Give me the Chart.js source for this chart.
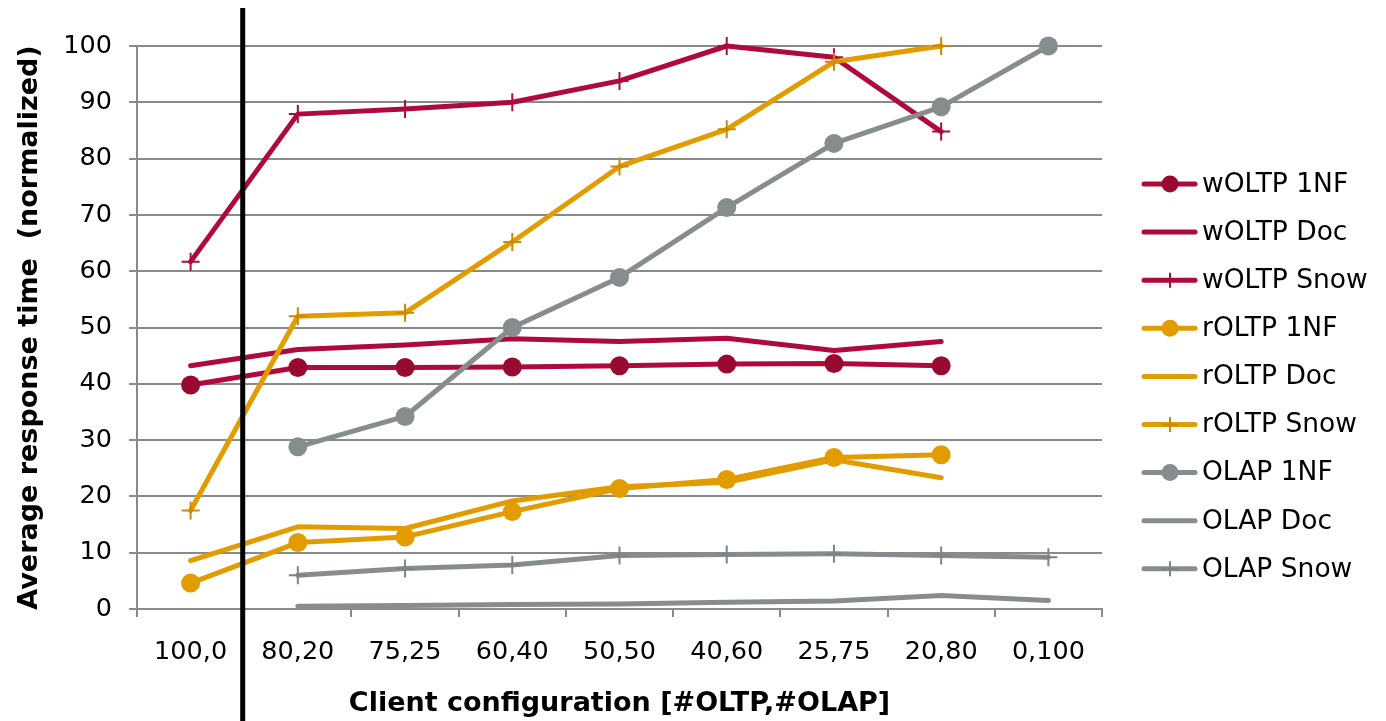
<!DOCTYPE html>
<html>
<head>
<meta charset="utf-8">
<script src="https://cdn.jsdelivr.net/npm/chart.js@4.4.1/dist/chart.umd.min.js"></script>
<style>
  html, body { margin: 0; padding: 0; background: #ffffff; }
  #wrap { width: 1386px; height: 721px; }
</style>
</head>
<body>
<div id="wrap"><canvas id="c" width="1386" height="721"></canvas></div>
<script>
// ---- data ----
const categories = ['100,0', '80,20', '75,25', '60,40', '50,50', '40,60', '25,75', '20,80', '0,100'];
const wOLTP1NF  = [39.8, 42.9, 42.9, 43.0, 43.2, 43.5, 43.6, 43.2, null];
const wOLTPDoc  = [43.2, 46.1, 46.9, 48.0, 47.5, 48.1, 45.9, 47.5, null];
const wOLTPSnow = [61.7, 87.9, 88.8, 90.0, 93.8, 100, 98.0, 84.8, null];
const rOLTP1NF  = [4.6, 11.8, 12.8, 17.3, 21.4, 23.0, 26.9, 27.4, null];
const rOLTPDoc  = [8.6, 14.6, 14.3, 19.2, 21.7, 22.5, 26.5, 23.3, null];
const rOLTPSnow = [17.5, 52.0, 52.6, 65.2, 78.6, 85.2, 97.2, 100, null];
const olap1NF   = [null, 28.8, 34.2, 50.0, 58.9, 71.3, 82.7, 89.2, 100];
const olapDoc   = [null, 0.5, 0.6, 0.8, 0.9, 1.2, 1.4, 2.4, 1.5];
const olapSnow  = [null, 6.0, 7.2, 7.8, 9.5, 9.7, 9.8, 9.5, 9.2];
const seriesNames = ['wOLTP 1NF', 'wOLTP Doc', 'wOLTP Snow', 'rOLTP 1NF', 'rOLTP Doc', 'rOLTP Snow', 'OLAP 1NF', 'OLAP Doc', 'OLAP Snow'];
const yTitle = 'Average response time  (normalized)';
const xTitle = 'Client configuration [#OLTP,#OLAP]';

// ---- styles ----
const RED = '#B0093C', RED_DARK = '#990A30';
const ORANGE = '#E29C00', ORANGE_DARK = '#C98A00';
const GRAY = '#878C8E', GRAY_DARK = '#7E8385';
const FONT = "'DejaVu Sans', Verdana, sans-serif";

function mk(label, data, color, kind, markColor, idx) {
  const base = {
    label, data,
    borderColor: color,
    backgroundColor: markColor,
    borderWidth: 5,
    borderCapStyle: 'round',
    borderJoinStyle: 'round',
    tension: 0,
    spanGaps: false,
    clip: false,
    order: 20 - idx,
    kind
  };
  if (kind === 'circle') {
    Object.assign(base, { pointStyle: 'circle', pointRadius: 9.5, pointBorderWidth: 0, pointBackgroundColor: markColor, pointBorderColor: markColor });
  } else if (kind === 'cross') {
    Object.assign(base, { pointStyle: 'cross', pointRadius: 9, pointBorderWidth: 2, pointBorderColor: markColor, pointBackgroundColor: markColor });
  } else {
    Object.assign(base, { pointRadius: 0 });
  }
  base.pointHoverRadius = base.pointRadius;
  return base;
}

const datasets = [
  mk(seriesNames[0], wOLTP1NF, RED, 'circle', RED_DARK, 0),
  mk(seriesNames[1], wOLTPDoc, RED, 'none', RED, 1),
  mk(seriesNames[2], wOLTPSnow, RED, 'cross', RED, 2),
  mk(seriesNames[3], rOLTP1NF, ORANGE, 'circle', ORANGE, 3),
  mk(seriesNames[4], rOLTPDoc, ORANGE, 'none', ORANGE, 4),
  mk(seriesNames[5], rOLTPSnow, ORANGE, 'cross', ORANGE_DARK, 5),
  mk(seriesNames[6], olap1NF, GRAY, 'circle', GRAY, 6),
  mk(seriesNames[7], olapDoc, GRAY, 'none', GRAY, 7),
  mk(seriesNames[8], olapSnow, GRAY, 'cross', GRAY_DARK, 8)
];

const dividerPlugin = {
  id: 'divider',
  afterDraw(chart) {
    const xs = chart.scales.x;
    const x = (xs.getPixelForValue(0) + xs.getPixelForValue(1)) / 2 - 1.5;
    const ctx = chart.ctx;
    ctx.save();
    ctx.strokeStyle = '#000000';
    ctx.lineWidth = 5;
    ctx.beginPath();
    ctx.moveTo(x, 8);
    ctx.lineTo(x, 721);
    ctx.stroke();
    ctx.restore();
  }
};

const legendPlugin = {
  id: 'sideLegend',
  afterDraw(chart) {
    const ctx = chart.ctx;
    ctx.save();
    chart.data.datasets.forEach((ds, i) => {
      const y = 184 + i * 48.1;
      ctx.strokeStyle = ds.borderColor;
      ctx.lineWidth = 5;
      ctx.lineCap = 'round';
      ctx.beginPath();
      ctx.moveTo(1144, y);
      ctx.lineTo(1195, y);
      ctx.stroke();
      if (ds.kind === 'circle') {
        ctx.fillStyle = ds.pointBackgroundColor;
        ctx.beginPath();
        ctx.arc(1170, y, 8.5, 0, Math.PI * 2);
        ctx.fill();
      } else if (ds.kind === 'cross') {
        ctx.strokeStyle = ds.pointBorderColor;
        ctx.lineWidth = 2;
        ctx.lineCap = 'butt';
        ctx.beginPath();
        ctx.moveTo(1170, y - 7.5); ctx.lineTo(1170, y + 7.5);
        ctx.moveTo(1162.5, y); ctx.lineTo(1177.5, y);
        ctx.stroke();
      }
      ctx.fillStyle = '#000000';
      ctx.font = '26.5px ' + FONT;
      ctx.textBaseline = 'middle';
      ctx.textAlign = 'left';
      ctx.fillText(ds.label, 1202, y + 1);
    });
    ctx.restore();
  }
};

new Chart(document.getElementById('c'), {
  type: 'line',
  data: { labels: categories, datasets },
  options: {
    responsive: false,
    animation: false,
    events: [],
    layout: { padding: { left: 0, right: 1386 - 1102, top: 46, bottom: 0 } },
    plugins: { legend: { display: false }, tooltip: { enabled: false } },
    scales: {
      x: {
        type: 'category',
        offset: true,
        grid: { offset: true, drawOnChartArea: false, drawTicks: true, tickLength: 8, color: '#8a8a8a', lineWidth: 2 },
        border: { color: '#8a8a8a', width: 2 },
        ticks: { color: '#000000', font: { family: FONT, size: 25.5 }, padding: 20, maxRotation: 0, autoSkip: false },
        title: { display: true, text: xTitle, color: '#000000', font: { family: FONT, size: 27, weight: 'bold' }, padding: { top: 0, bottom: 1 } },
        afterFit(scale) { scale.height = 721 - 609; }
      },
      y: {
        min: 0, max: 100,
        grid: { color: '#8a8a8a', lineWidth: 2, tickLength: 8, drawTicks: true },
        border: { color: '#8a8a8a', width: 2 },
        ticks: { stepSize: 10, color: '#000000', font: { family: FONT, size: 25.5 }, padding: 17 },
        title: { display: true, text: yTitle, color: '#000000', font: { family: FONT, size: 27, weight: 'bold' }, padding: { top: 14, bottom: 0 } },
        afterFit(scale) { scale.width = 137; }
      }
    }
  },
  plugins: [dividerPlugin, legendPlugin]
});
</script>
</body>
</html>
